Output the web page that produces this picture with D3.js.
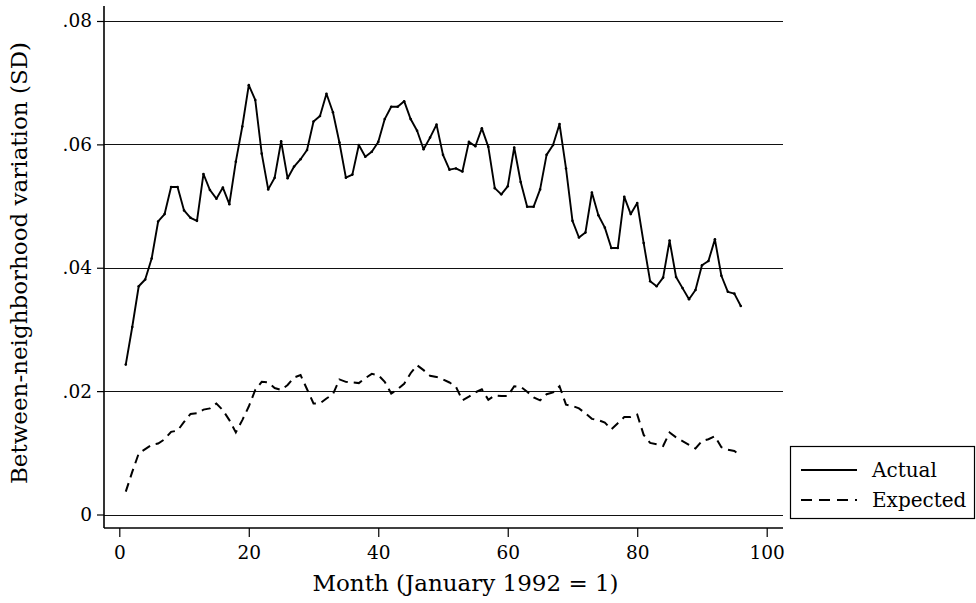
<!DOCTYPE html>
<html>
<head>
<meta charset="utf-8">
<script src="https://cdn.jsdelivr.net/npm/d3@7"></script>
<style>
  body { margin: 0; background: #fff; }
  text { font-family: "DejaVu Serif", serif; fill: #000; }
</style>
</head>
<body>
<div id="chart"></div>
<script>
// month index, January 1992 = 1
const months = d3.range(1, 97);

const actual = [
  .0243, .0304, .0370, .0381, .0415, .0475, .0487, .0531, .0531, .0493,
  .0481, .0476, .0552, .0526, .0512, .0530, .0503, .0572, .0629, .0696,
  .0672, .0585, .0527, .0546, .0605, .0545, .0564, .0576, .0591, .0637,
  .0646, .0682, .0652, .0603, .0546, .0551, .0599, .0580, .0588, .0604,
  .0641, .0661, .0661, .0670, .0641, .0622, .0592, .0611, .0632, .0583,
  .0559, .0561, .0556, .0604, .0597, .0626, .0596, .0529, .0519, .0532,
  .0595, .0539, .0499, .0499, .0527, .0583, .0599, .0633, .0561, .0476,
  .0449, .0457, .0522, .0485, .0465, .0432, .0432, .0515, .0487, .0505,
  .0440, .0378, .0370, .0384, .0444, .0385, .0367, .0349, .0364, .0404,
  .0411, .0446, .0387, .0361, .0358, .0338
];

const expected = [
  .0037, .0069, .0099, .0106, .0113, .0115, .0122, .0134, .0136, .0150,
  .0163, .0164, .0170, .0172, .0180, .0169, .0153, .0133, .0153, .0175,
  .0202, .0215, .0214, .0205, .0202, .0210, .0222, .0226, .0203, .0180,
  .0180, .0188, .0195, .0219, .0215, .0214, .0213, .0221, .0228, .0226,
  .0215, .0196, .0203, .0212, .0229, .0242, .0234, .0225, .0223, .0219,
  .0214, .0207, .0185, .0191, .0198, .0203, .0186, .0193, .0192, .0192,
  .0208, .0207, .0199, .0190, .0185, .0195, .0198, .0208, .0178, .0176,
  .0172, .0164, .0155, .0153, .0149, .0138, .0148, .0158, .0158, .0162,
  .0129, .0116, .0114, .0111, .0133, .0125, .0119, .0113, .0107, .0119,
  .0122, .0127, .0109, .0105, .0103, .0095
];

const xTicks = [0, 20, 40, 60, 80, 100];
const yTicks = [0, .02, .04, .06, .08];
const seriesNames = ["Actual", "Expected"];

const width = 976, height = 603;
const frame = {left: 104, right: 783, top: 6, bottom: 528};

const svg = d3.select("#chart").append("svg")
    .attr("width", width)
    .attr("height", height);

const x = d3.scaleLinear().domain([0, 100]).range([119.3, 766.7]);
const y = d3.scaleLinear().domain([0, .08]).range([514.5, 21]);

const fmtY = d => d === 0 ? "0" : d3.format(".2f")(d).replace(/^0/, "");

// horizontal grid lines
svg.selectAll("line.grid")
  .data(yTicks)
  .join("line")
    .attr("class", "grid")
    .attr("x1", frame.left)
    .attr("x2", frame.right)
    .attr("y1", d => Math.round(y(d)) + 0.5)
    .attr("y2", d => Math.round(y(d)) + 0.5)
    .style("stroke", "#111")
    .style("stroke-width", 1);

// y axis
const yAxis = svg.append("g")
    .attr("transform", `translate(${frame.left},0)`)
    .call(d3.axisLeft(y).tickValues(yTicks).tickFormat(fmtY).tickSize(7).tickPadding(5));
yAxis.select(".domain").remove();
yAxis.selectAll("text").style("font-size", "18.5px").style("font-family", "DejaVu Serif, serif");
yAxis.selectAll("line").style("stroke-width", 1.2);

// x axis
const xAxis = svg.append("g")
    .attr("transform", `translate(0,${frame.bottom})`)
    .call(d3.axisBottom(x).tickValues(xTicks).tickSize(9).tickPadding(9));
xAxis.select(".domain").remove();
xAxis.selectAll("text").style("font-size", "18.5px").style("font-family", "DejaVu Serif, serif");
xAxis.selectAll("line").style("stroke-width", 1.2);

// axis lines
svg.append("line")
    .attr("x1", frame.left).attr("x2", frame.left)
    .attr("y1", frame.top).attr("y2", frame.bottom)
    .style("stroke", "#000").style("stroke-width", 1.6);
svg.append("line")
    .attr("x1", frame.left).attr("x2", frame.right)
    .attr("y1", frame.bottom).attr("y2", frame.bottom)
    .style("stroke", "#000").style("stroke-width", 1.6);

// axis titles
svg.append("text")
    .attr("x", 465.5)
    .attr("y", 591)
    .attr("text-anchor", "middle")
    .style("font-size", "23px")
    .text("Month (January 1992 = 1)");

svg.append("text")
    .attr("transform", `translate(27,${(frame.top + frame.bottom) / 2 - 4}) rotate(-90)`)
    .attr("text-anchor", "middle")
    .style("font-size", "23px")
    .text("Between-neighborhood variation (SD)");

// lines
const line = d3.line()
    .x((d, i) => x(months[i]))
    .y(d => y(d));

svg.append("path")
    .datum(expected)
    .attr("d", line)
    .style("fill", "none")
    .style("stroke", "#000")
    .style("stroke-width", 2)
    .style("stroke-dasharray", "9 6");

svg.append("path")
    .datum(actual)
    .attr("d", line)
    .style("fill", "none")
    .style("stroke", "#000")
    .style("stroke-width", 1.9)
    .style("stroke-linejoin", "round");

// tiny vertex markers on the actual line
svg.selectAll("circle.pt")
  .data(actual)
  .join("circle")
    .attr("class", "pt")
    .attr("cx", (d, i) => x(months[i]))
    .attr("cy", d => y(d))
    .attr("r", 1.3)
    .style("fill", "#000");

// legend
const legend = svg.append("g");
legend.append("rect")
    .attr("x", 790.5).attr("y", 446.5)
    .attr("width", 184).attr("height", 72)
    .style("fill", "#fff")
    .style("stroke", "#000")
    .style("stroke-width", 1.2);

const items = legend.selectAll("g.item")
  .data(seriesNames)
  .join("g")
    .attr("class", "item")
    .attr("transform", (d, i) => `translate(0,${470 + i * 30})`);

items.append("line")
    .attr("x1", 801).attr("x2", 857)
    .style("stroke", "#000")
    .style("stroke-width", 1.9)
    .style("stroke-dasharray", (d, i) => i === 0 ? null : "11 7");

items.append("text")
    .attr("x", 872)
    .attr("dy", "0.35em")
    .style("font-size", "20px")
    .text(d => d);
</script>
</body>
</html>
